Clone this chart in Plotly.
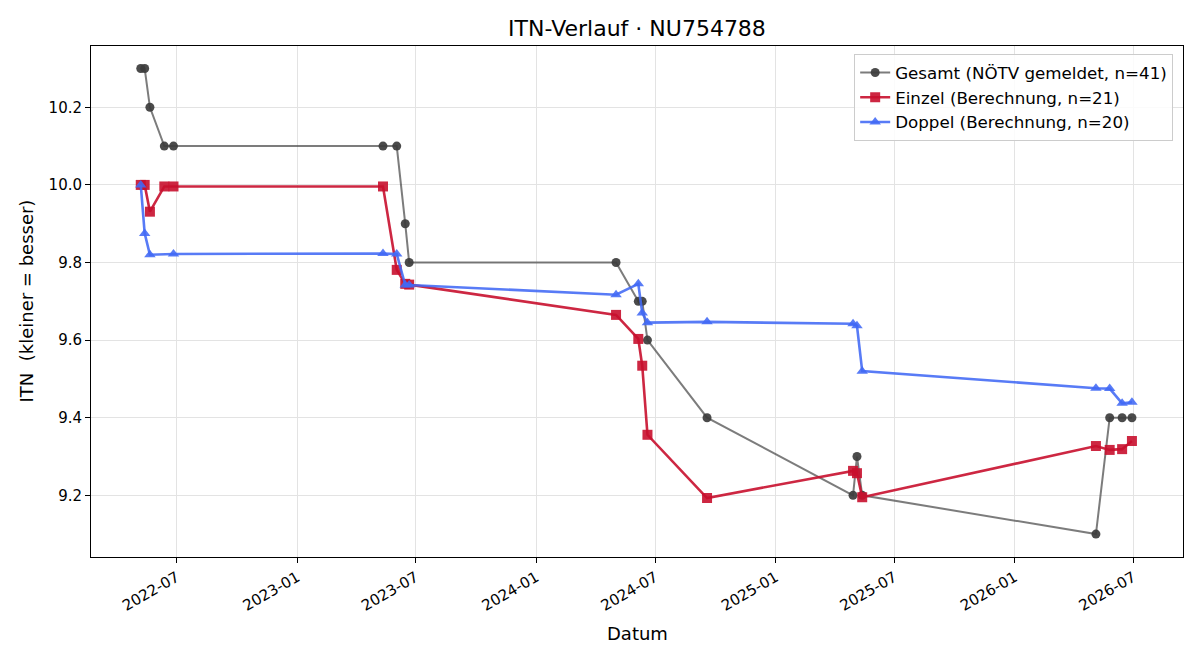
import plotly.graph_objects as go

# Dates (union of all measurements)
dates = ["2022-05-07", "2022-05-13", "2022-05-21", "2022-06-12", "2022-06-26",
         "2023-05-12", "2023-06-02", "2023-06-15", "2023-06-21",
         "2024-05-02", "2024-06-05", "2024-06-11", "2024-06-19", "2024-09-18",
         "2025-04-29", "2025-05-05", "2025-05-13",
         "2026-05-05", "2026-05-26", "2026-06-14", "2026-06-29"]

gesamt = [10.3, 10.3, 10.2, 10.1, 10.1,
          10.1, 10.1, 9.9, 9.8,
          9.8, 9.7, 9.7, 9.6, 9.4,
          9.2, 9.3, 9.2,
          9.1, 9.4, 9.4, 9.4]

einzel_dates = dates
einzel = [10.0, 10.0, 9.931, 9.996, 9.996,
          9.996, 9.781, 9.745, 9.743,
          9.665, 9.603, 9.534, 9.356, 9.193,
          9.263, 9.257, 9.195,
          9.327, 9.317, 9.319, 9.340]

doppel_dates = [d for d in dates if d != "2022-06-12"]
doppel = [10.0, 9.875, 9.82, 9.822,
          9.823, 9.822, 9.742, 9.742,
          9.717, 9.745, 9.67, 9.645, 9.647,
          9.642, 9.637, 9.520,
          9.476, 9.475, 9.437, 9.440]

labels = ["Gesamt (NÖTV gemeldet, n=41)",
          "Einzel (Berechnung, n=21)",
          "Doppel (Berechnung, n=20)"]

FONT = "DejaVu Sans"

fig = go.Figure()
fig.add_trace(go.Scatter(
    x=dates, y=gesamt, mode="lines+markers", name=labels[0], legendgroup="g",
    line=dict(color="rgba(68,68,68,0.7)", width=2),
    marker=dict(symbol="circle", size=9, color="rgba(60,60,60,0.92)"),
))
fig.add_trace(go.Scatter(
    x=einzel_dates, y=einzel, mode="lines+markers", name=labels[1], legendgroup="e",
    line=dict(color="rgba(200,16,46,0.9)", width=2.6),
    marker=dict(symbol="square", size=10, color="rgba(200,16,46,0.9)"),
))
fig.add_trace(go.Scatter(
    x=doppel_dates, y=doppel, mode="lines+markers", name=labels[2], legendgroup="d",
    line=dict(color="rgba(65,105,245,0.88)", width=2.6),
    marker=dict(symbol="triangle-up", size=10, color="rgba(65,105,245,0.88)"),
))

axis_common = dict(
    showline=True, linecolor="black", linewidth=1, mirror=True,
    ticks="outside", ticklen=5, tickcolor="black",
    showgrid=True, gridcolor="#e3e3e3", gridwidth=1, zeroline=False,
    tickfont=dict(family=FONT, size=15, color="black"),
)

fig.update_layout(
    width=1200, height=660,
    margin=dict(l=91, r=17, t=46, b=103),
    paper_bgcolor="white", plot_bgcolor="white",
    font=dict(family=FONT, size=15, color="black"),
    title=dict(text="ITN-Verlauf · NU754788", x=0.5, xref="paper",
               y=1 - 28 / 660, yanchor="middle",
               font=dict(family=FONT, size=22, color="black")),
    xaxis=dict(axis_common, type="date",
               range=["2022-02-20", "2026-09-15"],
               tick0="2022-07-01", dtick="M6", tickformat="%Y-%m",
               tickangle=-30),
    yaxis=dict(axis_common, range=[9.041, 10.358],
               tick0=9.2, dtick=0.2, tickformat=".1f"),
    legend=dict(x=0.991, y=0.984, xanchor="right", yanchor="top",
                bgcolor="rgba(255,255,255,0.85)", bordercolor="#cccccc",
                borderwidth=1, font=dict(family=FONT, size=16.7, color="black"),
                tracegroupgap=0),
    showlegend=True,
    annotations=[
        dict(text="Datum", xref="paper", yref="paper", x=0.5,
             y=-(633 - 557) / 511, xanchor="center", yanchor="middle",
             showarrow=False, font=dict(family=FONT, size=18, color="black")),
        dict(text="ITN \u00a0(kleiner = besser)", xref="paper", yref="paper",
             x=(26 - 91) / 1092, y=0.5, xanchor="center", yanchor="middle",
             textangle=-90, showarrow=False,
             font=dict(family=FONT, size=18, color="black")),
    ],
)

fig.write_html("out.html")
